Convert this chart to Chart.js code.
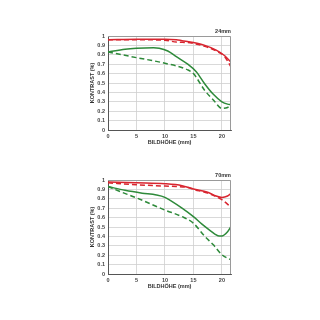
<!DOCTYPE html>
<html><head><meta charset="utf-8">
<script src="https://cdn.jsdelivr.net/npm/chart.js@4"></script>
<style>
html,body{margin:0;padding:0;background:#fff;width:320px;height:320px;overflow:hidden}
.c{position:absolute;left:0;width:320px;height:160px}
</style></head><body>
<div class="c" style="top:0"><canvas id="c1" width="320" height="160"></canvas></div>
<div class="c" style="top:144px"><canvas id="c2" width="320" height="160"></canvas></div>
<script>
const xTicks = [0, 5, 10, 15, 20];
const xMax = 21.6;
const yTicks = [0,0.1,0.2,0.3,0.4,0.5,0.6,0.7,0.8,0.9,1];
const titles24 = '24mm', titles70 = '70mm';
const xTitle = 'BILDHÖHE (mm)';
const yTitle = 'KONTRAST (%)';

// 24mm
const x24RedSolid   = [0, 5, 10, 12, 13, 15, 17, 19, 20.5, 21.6];
const y24RedSolid   = [0.96, 0.965, 0.965, 0.96, 0.95, 0.93, 0.90, 0.85, 0.79, 0.72];
const x24RedDash    = [0, 5, 10, 12, 14, 15, 17, 19, 20.5, 21.6];
const y24RedDash    = [0.96, 0.96, 0.955, 0.935, 0.93, 0.92, 0.89, 0.84, 0.78, 0.67];
const x24GreenSolid = [0, 3, 5, 8, 9, 10.5, 12, 14, 15.5, 17, 18.5, 20, 21, 21.6];
const y24GreenSolid = [0.83, 0.86, 0.87, 0.875, 0.87, 0.84, 0.78, 0.70, 0.62, 0.49, 0.38, 0.30, 0.275, 0.27];
const x24GreenDash  = [0, 5, 10, 14, 15, 17, 18.5, 20, 21, 21.6];
const y24GreenDash  = [0.83, 0.77, 0.71, 0.64, 0.60, 0.42, 0.32, 0.23, 0.24, 0.265];

// 70mm
const x70RedSolid   = [0, 5, 10, 13, 15, 17.5, 19, 20, 21, 21.6];
const y70RedSolid   = [0.98, 0.97, 0.96, 0.94, 0.905, 0.87, 0.83, 0.815, 0.83, 0.855];
const x70RedDash    = [0, 5, 10, 12, 14, 15, 17.5, 20, 21.6];
const y70RedDash    = [0.97, 0.95, 0.935, 0.93, 0.92, 0.90, 0.86, 0.79, 0.71];
const x70GreenSolid = [0, 3, 6, 8.5, 10, 11, 13, 15, 16.5, 18, 19.5, 20, 21, 21.6];
const y70GreenSolid = [0.93, 0.89, 0.86, 0.84, 0.815, 0.78, 0.70, 0.61, 0.53, 0.46, 0.405, 0.405, 0.45, 0.505];
const x70GreenDash  = [0, 2, 5, 10, 13, 15, 17, 18.5, 20, 21.6];
const y70GreenDash  = [0.93, 0.88, 0.81, 0.68, 0.61, 0.54, 0.40, 0.31, 0.205, 0.15];

const RED = '#d8252f', GREEN = '#2e8a3a';

function pts(xs, ys){ return xs.map((x,i)=>({x:x, y:ys[i]})); }
function ds(xs, ys, color, dashed){
  return {data: pts(xs,ys), borderColor: color, borderWidth: 1.5, pointRadius: 0,
    borderDash: dashed ? [5,3] : [], cubicInterpolationMode: 'monotone', fill:false};
}
const tickFont = {family:'Liberation Sans, Arial, sans-serif', size:5.5, weight:'bold'};

function makeChart(id, sets, label){
  const boxPlugin = {
    id:'box'+id,
    afterDraw(chart){
      const a = chart.chartArea, ctx = chart.ctx;
      ctx.save();
      ctx.strokeStyle = '#9a9a9a'; ctx.lineWidth = 1;
      ctx.beginPath();
      ctx.moveTo(a.left, a.top+0.5); ctx.lineTo(a.right-0.5, a.top+0.5); ctx.lineTo(a.right-0.5, a.bottom);
      ctx.stroke();
      ctx.fillStyle = '#333';
      ctx.font = 'bold 5.5px Liberation Sans, Arial, sans-serif';
      ctx.textAlign = 'right'; ctx.textBaseline = 'bottom';
      ctx.fillText(label, a.right, a.top - 2);
      ctx.restore();
    }
  };
  return new Chart(document.getElementById(id), {
    type:'line',
    data:{datasets: sets},
    plugins:[boxPlugin],
    options:{
      responsive:false, animation:false,
      layout:{padding:{left:89, right:89, top:36, bottom:14}},
      plugins:{legend:{display:false}, tooltip:{enabled:false}},
      scales:{
        x:{type:'linear', min:0, max:xMax,
          afterBuildTicks(s){ s.ticks = xTicks.map(v=>({value:v})); },
          afterFit(s){ s.height = 16; },
          grid:{color:'#cfcfcf', lineWidth:0.8, drawTicks:false},
          border:{color:'#555', width:1},
          ticks:{font:tickFont, color:'#444', padding:3, maxRotation:0, autoSkip:false},
          title:{display:true, text:xTitle, font:tickFont, color:'#333', padding:{top:0,bottom:0}}
        },
        y:{min:0, max:1,
          afterBuildTicks(s){ s.ticks = yTicks.map(v=>({value:v})); },
          afterFit(s){ s.width = 19; },
          grid:{color:'#cfcfcf', lineWidth:0.8, drawTicks:false},
          border:{color:'#555', width:1},
          ticks:{font:tickFont, color:'#444', padding:3, autoSkip:false,
            callback:(v)=> (v===0||v===1) ? String(v) : v.toFixed(1)},
          title:{display:true, text:yTitle, font:tickFont, color:'#333', padding:{top:0,bottom:0}}
        }
      }
    }
  });
}

makeChart('c1', [
  ds(x24RedSolid, y24RedSolid, RED, false),
  ds(x24RedDash, y24RedDash, RED, true),
  ds(x24GreenSolid, y24GreenSolid, GREEN, false),
  ds(x24GreenDash, y24GreenDash, GREEN, true)
], titles24);
makeChart('c2', [
  ds(x70RedSolid, y70RedSolid, RED, false),
  ds(x70RedDash, y70RedDash, RED, true),
  ds(x70GreenSolid, y70GreenSolid, GREEN, false),
  ds(x70GreenDash, y70GreenDash, GREEN, true)
], titles70);
</script>
</body></html>
